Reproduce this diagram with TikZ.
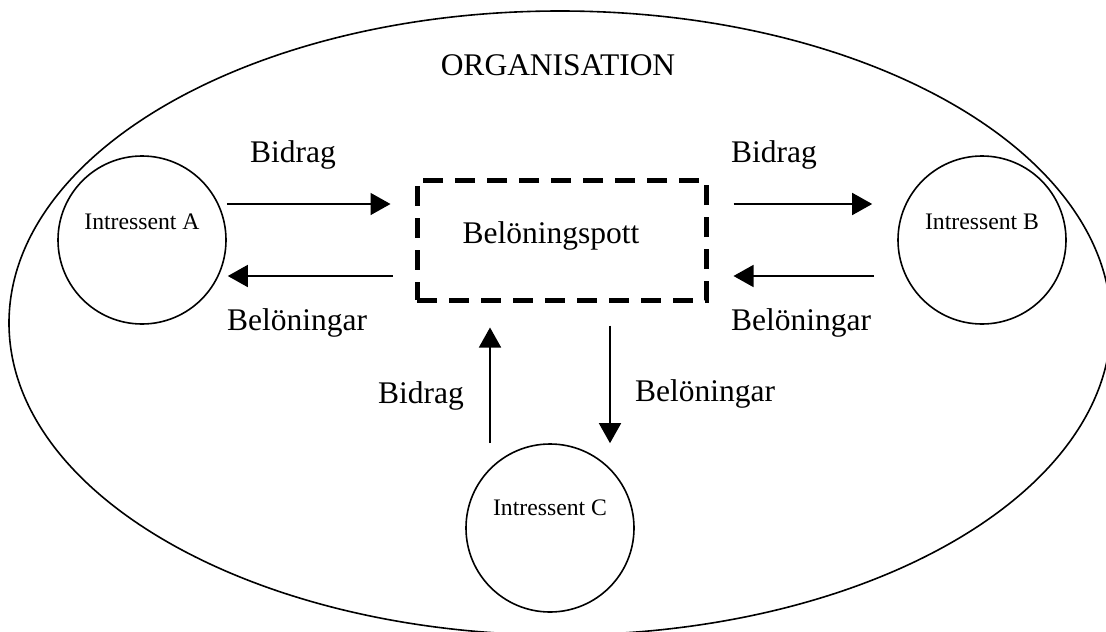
\documentclass[tikz,border=0pt]{standalone}
\usepackage{fontspec}
\setmainfont{Liberation Serif}
\usetikzlibrary{arrows.meta,shapes.geometric}

\tikzset{
  party/.style={draw, circle, line width=1.6pt, minimum size=168pt, inner sep=0pt},
  pot/.style={draw, rectangle, line width=5pt, dash pattern=on 20pt off 12pt,
              minimum width=289pt, minimum height=120pt, inner sep=0pt},
  flow/.style={line width=1.6pt, -{Triangle[length=20pt,width=22pt]}},
  big/.style={font=\fontsize{31.5}{36}\selectfont, inner sep=0pt},
  small/.style={font=\fontsize{23.7}{28}\selectfont, inner sep=0pt, anchor=base},
}

\begin{document}
\begin{tikzpicture}[x=1pt, y=-1pt]
  \useasboundingbox (0,0) rectangle (1106,632);
  \clip (0,0) rectangle (1106,632);

  % organisation boundary
  \node[draw, ellipse, line width=1.6pt, minimum width=1102pt, minimum height=624pt,
        inner sep=0pt] (org) at (560,323) {};
  \node[big, anchor=base] (orgname) at (558,75) {ORGANISATION};

  % stakeholders and the reward pot
  \node[party] (A) at (142,240) {};
  \node[party] (B) at (982,240) {};
  \node[party] (C) at (550,528) {};
  \node[small] (Atext) at ([yshift=11pt]A.center) {Intressent A};
  \node[small] (Btext) at ([yshift=11pt]B.center) {Intressent B};
  \node[small] (Ctext) at ([yshift=13pt]C.center) {Intressent C};

  \node[pot] (box) at (561.5,240) {};
  \node[big, anchor=base] (pottext) at (551,243) {Belöningspott};

  % horizontal flows
  \draw[flow] ([yshift=36pt]A.east) -- ([xshift=-24pt,yshift=36pt]box.west);
  \draw[flow] ([xshift=-22pt,yshift=-36pt]box.west) -- ([xshift=1pt,yshift=-36pt]A.east);
  \draw[flow] ([xshift=25pt,yshift=36pt]box.east) -- ([xshift=-25pt,yshift=36pt]B.west);
  \draw[flow] ([xshift=-23pt,yshift=-36pt]B.west) -- ([xshift=25pt,yshift=-36pt]box.east);

  % vertical flows
  \coordinate (cu) at ([xshift=-60pt]C.north);
  \coordinate (cd) at ([xshift=60pt]C.north);
  \draw[flow, shorten >=25pt] (cu) -- (cu |- box.south);
  \draw[flow, shorten <=23pt] (cd |- box.south) -- (cd);

  % flow labels
  \node[big, anchor=base west] (l1) at (250,162) {Bidrag};
  \node[big, anchor=base west] (l2) at (227,330) {Belöningar};
  \node[big, anchor=base west] (l3) at (731,162) {Bidrag};
  \node[big, anchor=base west] (l4) at (731,330) {Belöningar};
  \node[big, anchor=base west] (l5) at (378,403) {Bidrag};
  \node[big, anchor=base west] (l6) at (635,401) {Belöningar};
\end{tikzpicture}
\end{document}
